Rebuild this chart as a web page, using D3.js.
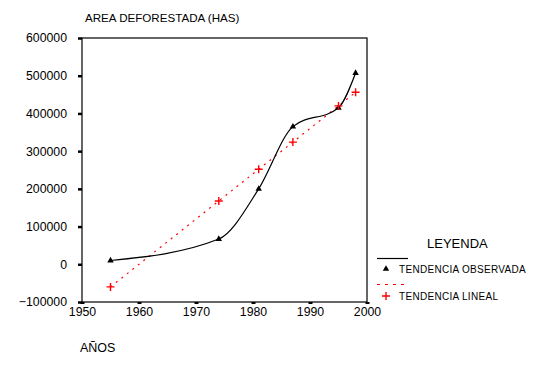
<!DOCTYPE html>
<html><head><meta charset="utf-8">
<script src="https://cdn.jsdelivr.net/npm/d3@7"></script>
<style>body{margin:0;background:#fff}svg{display:block}text{font-family:"Liberation Sans",Arial,sans-serif}</style>
</head><body><svg id="c" width="559" height="365"></svg>
<script>
const years = [1955, 1974, 1981, 1987, 1995, 1998];
const observed = [10000, 67000, 200000, 365000, 415000, 507000];
const linear = [-60000, 168000, 252000, 324000, 420000, 456000];
const yTicks = [-100000, 0, 100000, 200000, 300000, 400000, 500000, 600000];
const xTicks = [1950, 1960, 1970, 1980, 1990, 2000];
const title = "AREA DEFORESTADA (HAS)";
const xTitle = "AÑOS";
const legendTitle = "LEYENDA";
const seriesNames = ["TENDENCIA OBSERVADA", "TENDENCIA LINEAL"];

const svg = d3.select("#c");
const L = 82, R = 367, T = 38, B = 302;
const x = d3.scaleLinear().domain([1950, 2000]).range([L, R]);
const y = d3.scaleLinear().domain([-100000, 600000]).range([B, T]);

// frame
svg.append("rect").attr("x", L).attr("y", T).attr("width", R - L).attr("height", B - T)
  .attr("fill", "none").attr("stroke", "#000").attr("stroke-width", 1.2);

// y axis
const ya = svg.append("g").attr("transform", `translate(${L},0)`)
  .call(d3.axisLeft(y).tickValues(yTicks).tickSize(4).tickPadding(11).tickFormat(d3.format("d")));
ya.select(".domain").remove();
ya.selectAll(".tick line").attr("stroke-width", 2.5);
ya.selectAll(".tick text").attr("font-size", "12.3px").attr("font-family", "Liberation Sans, Arial, sans-serif").attr("fill", "#000");

// x axis
const xa = svg.append("g").attr("transform", `translate(0,${B})`)
  .call(d3.axisBottom(x).tickValues(xTicks).tickSize(2).tickPadding(3).tickFormat(d3.format("d")));
xa.select(".domain").remove();
xa.selectAll(".tick line").attr("stroke-width", 4);
xa.selectAll(".tick text").attr("font-size", "12.3px").attr("font-family", "Liberation Sans, Arial, sans-serif").attr("fill", "#000");

// titles
svg.append("text").attr("x", 85).attr("y", 22).attr("font-size", "11.6px").text(title);
svg.append("text").attr("x", 80).attr("y", 352).attr("font-size", "12.5px").text(xTitle);

const obs = years.map((d, i) => [d, observed[i]]);
const lin = years.map((d, i) => [d, linear[i]]);

// linear dashed
svg.append("path").attr("d", d3.line().x(d => x(d[0])).y(d => y(d[1]))(lin))
  .attr("fill", "none").attr("stroke", "#f00").attr("stroke-width", 1.2).attr("stroke-dasharray", "2,5");
// observed curve
svg.append("path").attr("d", d3.line().x(d => x(d[0])).y(d => y(d[1])).curve(d3.curveMonotoneX)(obs))
  .attr("fill", "none").attr("stroke", "#000").attr("stroke-width", 1.2);

const tri = d3.symbol().type(d3.symbolTriangle).size(18);
svg.selectAll(".tri").data(obs).enter().append("path")
  .attr("transform", d => `translate(${x(d[0])},${y(d[1])})`).attr("d", tri).attr("fill", "#000");

function plus(g, cx, cy) {
  g.append("path").attr("d", `M${cx-4},${cy}H${cx+4}M${cx},${cy-4}V${cy+4}`)
    .attr("stroke", "#f00").attr("stroke-width", 1.4).attr("fill", "none");
}
lin.forEach(d => plus(svg, x(d[0]), y(d[1])));

// legend
svg.append("text").attr("x", 427).attr("y", 248).attr("font-size", "13px").text(legendTitle);
svg.append("line").attr("x1", 377).attr("x2", 408).attr("y1", 258.5).attr("y2", 258.5).attr("stroke", "#000").attr("stroke-width", 1.2);
svg.append("path").attr("transform", "translate(386,269)").attr("d", tri).attr("fill", "#000");
svg.append("text").attr("x", 399).attr("y", 273).attr("font-size", "10px").attr("letter-spacing", "0.3px").text(seriesNames[0]);
svg.append("line").attr("x1", 377).attr("x2", 408).attr("y1", 284.5).attr("y2", 284.5).attr("stroke", "#f00").attr("stroke-width", 1.2).attr("stroke-dasharray", "3,5");
plus(svg, 386, 296);
svg.append("text").attr("x", 399).attr("y", 300).attr("font-size", "10px").attr("letter-spacing", "0.3px").text(seriesNames[1]);
</script></body></html>
